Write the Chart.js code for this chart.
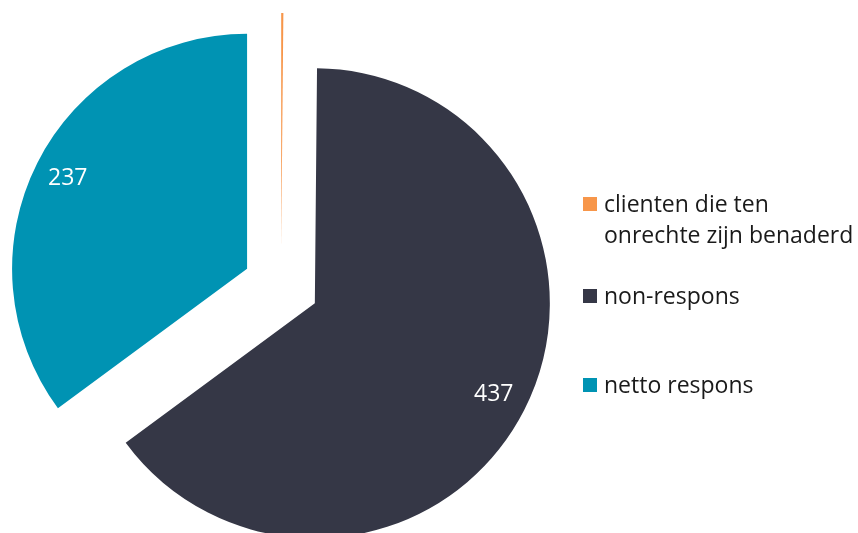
<!DOCTYPE html>
<html>
<head>
<meta charset="utf-8">
<script src="https://cdn.jsdelivr.net/npm/chart.js@4.4.1/dist/chart.umd.min.js"></script>
<style>
  html, body { margin: 0; padding: 0; background: #ffffff; }
  #wrap { position: relative; width: 858px; height: 533px; overflow: hidden; }
  #chart { position: absolute; left: 0; top: 0; }
  #legend { position: absolute; left: 583px; top: 0; font-family: "Open Sans", sans-serif; font-size: 23px; color: #1a1a1a; }
  .item { position: absolute; left: 0; display: flex; align-items: flex-start; white-space: nowrap; }
  .item .box { width: 14px; height: 14px; margin-top: 9px; margin-right: 7px; flex: none; }
  .item .txt { line-height: 31px; }
  .item:nth-child(1) { top: 188px; }
  .item:nth-child(2) { top: 280px; }
  .item:nth-child(3) { top: 369px; }
</style>
</head>
<body>
<div id="wrap">
  <canvas id="chart" width="858" height="533"></canvas>
  <div id="legend"></div>
</div>
<script>
// Respondent breakdown
const categories = ["clienten die ten onrechte zijn benaderd", "non-respons", "netto respons"];
const legendLines = [["clienten die ten", "onrechte zijn benaderd"], ["non-respons"], ["netto respons"]];
const counts = [1, 437, 237];
const showValue = [false, true, true];
const sliceColors = ["#F7964A", "#353746", "#0093B3"];

// Distance each slice is pulled out from the pie centre, in pixels
const explodeDistance = 38;

// Draw every slice shifted outward along its middle angle,
// keeping the same radius for all slices
const explodedSlices = {
  id: "explodedSlices",
  beforeDatasetDraw(chart, args) {
    const { ctx } = chart;
    args.meta.data.forEach((arc) => {
      const { startAngle, endAngle } = arc.getProps(["startAngle", "endAngle"]);
      const mid = (startAngle + endAngle) / 2;
      ctx.save();
      ctx.translate(Math.cos(mid) * explodeDistance, Math.sin(mid) * explodeDistance);
      arc.draw(ctx);
      ctx.restore();
    });
    return false;
  }
};

// Value labels inside the slices, placed along each slice's middle angle
const sliceLabels = {
  id: "sliceLabels",
  afterDatasetsDraw(chart) {
    const { ctx } = chart;
    const meta = chart.getDatasetMeta(0);
    ctx.save();
    ctx.fillStyle = "#ffffff";
    ctx.font = "23px 'Open Sans', sans-serif";
    ctx.textAlign = "center";
    ctx.textBaseline = "middle";
    meta.data.forEach((arc, i) => {
      if (!showValue[i]) return;
      const { x, y, startAngle, endAngle, outerRadius } = arc.getProps(["x", "y", "startAngle", "endAngle", "outerRadius"]);
      const mid = (startAngle + endAngle) / 2;
      const r = explodeDistance + outerRadius * 0.855;
      ctx.fillText(String(counts[i]), x + Math.cos(mid) * r, y + Math.sin(mid) * r);
    });
    ctx.restore();
  }
};

new Chart(document.getElementById("chart"), {
  type: "pie",
  data: {
    labels: categories,
    datasets: [{
      data: counts,
      backgroundColor: sliceColors,
      borderWidth: 0
    }]
  },
  options: {
    responsive: false,
    animation: false,
    radius: 235,
    layout: { padding: { left: 0, right: 296, top: 39, bottom: 0 } },
    plugins: {
      legend: { display: false },
      tooltip: { enabled: false }
    }
  },
  plugins: [explodedSlices, sliceLabels]
});

// Legend beside the pie
const legend = document.getElementById("legend");
categories.forEach((c, i) => {
  const item = document.createElement("div");
  item.className = "item";
  const box = document.createElement("div");
  box.className = "box";
  box.style.background = sliceColors[i];
  const txt = document.createElement("div");
  txt.className = "txt";
  txt.innerHTML = legendLines[i].map(s => s.replace(/&/g, "&amp;").replace(/</g, "&lt;")).join("<br>");
  item.appendChild(box);
  item.appendChild(txt);
  legend.appendChild(item);
});
</script>
</body>
</html>
